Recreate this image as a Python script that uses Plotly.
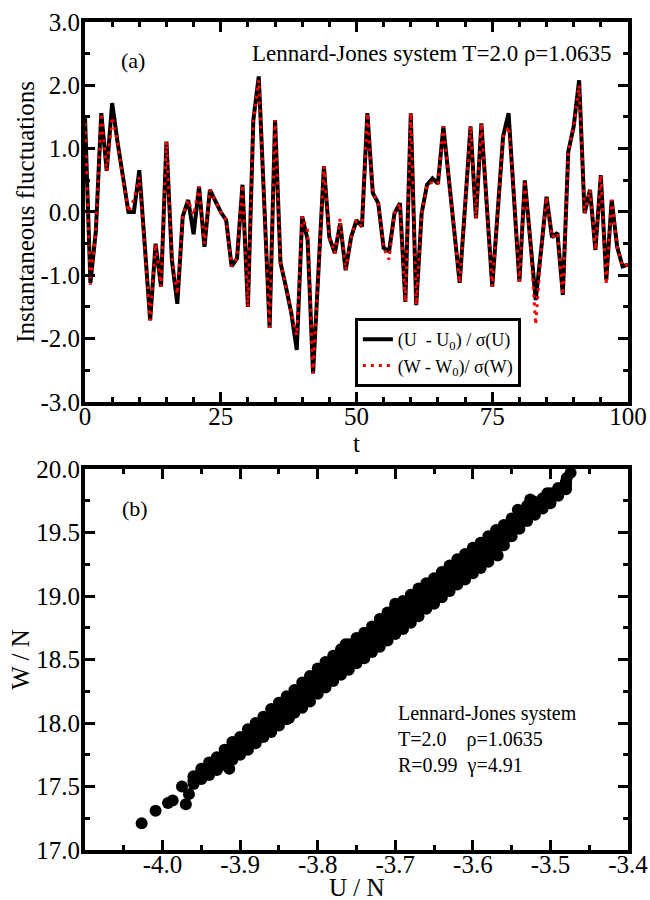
import plotly.graph_objects as go

# ---------------- Panel (a) data ----------------
t_vals = list(range(0, 101))
u_fluct = [1.50, -1.12, -0.30, 1.56, 0.65, 1.72, 1.10, 0.50, 0.00, 0.00,
           0.66, -0.52, -1.71, -0.50, -1.18, 1.11, -0.76, -1.45, -0.07, 0.19,
           -0.35, 0.40, -0.55, 0.35, 0.18, 0.00, -0.13, -0.86, -0.73, 0.43,
           -1.50, 1.45, 2.14, 0.20, -1.83, 1.45, -0.80, -1.18, -1.60, -2.18,
           -0.07, -0.44, -2.55, -0.92, 0.72, -0.40, -0.65, -0.18, -0.92, -0.40,
           -0.13, -0.23, 1.56, 0.30, 0.14, -0.57, -0.62, -0.02, 0.14, -1.42,
           1.56, -1.47, -0.02, 0.43, 0.53, 0.45, 1.35, 0.53, -0.30, -1.12,
           0.10, 1.35, -0.10, 1.40, 0.10, -1.18, 0.00, 1.19, 1.56, 0.30,
           -1.10, 0.50, -0.45, -1.39, -0.60, 0.24, -0.40, -0.33, -1.31, 0.95,
           1.35, 2.08, -0.02, 0.35, -0.60, 0.58, -1.07, 0.19, -0.55, -0.86, -0.83]
w_fluct = [1.40, -1.15, -0.30, 1.56, 0.65, 1.50, 1.10, 0.50, 0.00, 0.20,
           0.55, -0.52, -1.71, -0.50, -1.18, 1.11, -0.70, -1.30, -0.07, 0.19,
           -0.05, 0.40, -0.50, 0.35, 0.18, 0.00, -0.13, -0.86, -0.73, 0.43,
           -1.50, 1.45, 2.08, 0.20, -1.83, 1.45, -0.80, -1.18, -1.60, -1.95,
           -0.07, -0.30, -2.55, -0.92, 0.72, -0.40, -0.65, -0.10, -0.92, -0.40,
           -0.13, -0.23, 1.56, 0.30, 0.14, -0.57, -0.75, -0.02, 0.14, -1.42,
           1.56, -1.47, -0.02, 0.43, 0.47, 0.45, 1.35, 0.53, -0.30, -1.12,
           0.10, 1.35, -0.10, 1.40, 0.10, -1.18, 0.00, 1.19, 1.35, 0.30,
           -1.10, 0.50, -0.45, -1.78, -0.60, 0.24, -0.40, -0.33, -1.31, 0.95,
           1.35, 2.00, -0.02, 0.35, -0.60, 0.58, -1.15, 0.19, -0.55, -0.86, -0.83]

a_xtick_vals = [0, 25, 50, 75, 100]
a_xtick_text = ["0", "25", "50", "75", "100"]
a_ytick_vals = [-3, -2, -1, 0, 1, 2, 3]
a_ytick_text = ["-3.0", "-2.0", "-1.0", "0.0", "1.0", "2.0", "3.0"]

legend_u = "(U\u00a0\u00a0- U<sub>0</sub>) / σ(U)"
legend_w = "(W - W<sub>0</sub>)/ σ(W)"

# ---------------- Panel (b) data ----------------
band_u = [-3.96, -3.95, -3.94, -3.93, -3.92, -3.91, -3.90, -3.89, -3.88, -3.87,
          -3.86, -3.85, -3.84, -3.83, -3.82, -3.81, -3.80, -3.79, -3.78, -3.77,
          -3.76, -3.75, -3.74, -3.73, -3.72, -3.71, -3.70, -3.69, -3.68, -3.67,
          -3.66, -3.65, -3.64, -3.63, -3.62, -3.61, -3.60, -3.59, -3.58, -3.57,
          -3.56, -3.55, -3.54, -3.53, -3.52, -3.51, -3.50, -3.49, -3.48]
band_w = [
    [17.52, 17.54, 17.55, 17.57, 17.58],
    [17.56, 17.58, 17.60, 17.62, 17.64],
    [17.59, 17.62, 17.64, 17.67, 17.69],
    [17.63, 17.66, 17.68, 17.71, 17.73],
    [17.67, 17.70, 17.73, 17.76, 17.79],
    [17.71, 17.75, 17.78, 17.82, 17.85],
    [17.75, 17.79, 17.82, 17.86, 17.89],
    [17.79, 17.83, 17.87, 17.91, 17.95],
    [17.84, 17.88, 17.92, 17.96, 18.00],
    [17.89, 17.93, 17.97, 18.01, 18.05],
    [17.93, 17.98, 18.02, 18.07, 18.11],
    [17.98, 18.03, 18.07, 18.12, 18.16],
    [18.03, 18.08, 18.12, 18.17, 18.21],
    [18.08, 18.13, 18.17, 18.22, 18.26],
    [18.12, 18.17, 18.22, 18.27, 18.32],
    [18.17, 18.22, 18.27, 18.32, 18.37],
    [18.23, 18.28, 18.33, 18.38, 18.43],
    [18.28, 18.33, 18.38, 18.43, 18.48],
    [18.33, 18.38, 18.43, 18.48, 18.53],
    [18.38, 18.43, 18.48, 18.53, 18.58],
    [18.42, 18.47, 18.52, 18.57, 18.62],
    [18.47, 18.52, 18.57, 18.62, 18.67],
    [18.51, 18.56, 18.61, 18.66, 18.71],
    [18.56, 18.61, 18.66, 18.71, 18.76],
    [18.60, 18.66, 18.71, 18.77, 18.82],
    [18.65, 18.71, 18.76, 18.82, 18.87],
    [18.70, 18.76, 18.81, 18.87, 18.92],
    [18.74, 18.80, 18.85, 18.91, 18.96],
    [18.79, 18.85, 18.90, 18.96, 19.01],
    [18.84, 18.90, 18.95, 19.01, 19.06],
    [18.90, 18.95, 19.00, 19.05, 19.10],
    [18.94, 18.99, 19.04, 19.09, 19.14],
    [18.99, 19.04, 19.09, 19.14, 19.19],
    [19.04, 19.09, 19.14, 19.19, 19.24],
    [19.09, 19.14, 19.19, 19.24, 19.29],
    [19.13, 19.18, 19.23, 19.28, 19.33],
    [19.18, 19.23, 19.28, 19.33, 19.38],
    [19.22, 19.27, 19.32, 19.37, 19.42],
    [19.27, 19.32, 19.37, 19.42, 19.47],
    [19.34, 19.39, 19.43, 19.48, 19.52],
    [19.40, 19.44, 19.48, 19.52, 19.56],
    [19.47, 19.51, 19.54, 19.58, 19.61],
    [19.53, 19.56, 19.59, 19.62, 19.65],
    [19.59, 19.62, 19.65, 19.68, 19.71],
    [19.64, 19.67, 19.69, 19.72, 19.74],
    [19.69, 19.71, 19.73, 19.75, 19.77],
    [19.73, 19.75, 19.77, 19.79, 19.81],
    [19.79, 19.80, 19.82, 19.84, 19.85],
    [19.84, 19.85, 19.87, 19.89, 19.90],
]
extra_u = [-4.027, -4.009, -3.993, -3.987, -3.970, -3.975, -3.966, -3.914, -3.837,
           -3.764, -3.700, -3.568, -3.542, -3.526, -3.504, -3.479, -3.474]
extra_w = [17.21, 17.31, 17.37, 17.39, 17.36, 17.50, 17.44, 17.64, 18.04,
           18.62, 18.94, 19.32, 19.68, 19.76, 19.81, 19.93, 19.97]

b_xtick_vals = [-4.0, -3.9, -3.8, -3.7, -3.6, -3.5, -3.4]
b_xtick_text = ["-4.0", "-3.9", "-3.8", "-3.7", "-3.6", "-3.5", "-3.4"]
b_ytick_vals = [17.0, 17.5, 18.0, 18.5, 19.0, 19.5, 20.0]
b_ytick_text = ["17.0", "17.5", "18.0", "18.5", "19.0", "19.5", "20.0"]

# flatten the scatter cloud
scat_u, scat_w = [], []
for u, ws in zip(band_u, band_w):
    for w in ws:
        scat_u.append(u)
        scat_w.append(w)
scat_u += extra_u
scat_w += extra_w

FONT = "Liberation Serif, Times New Roman, serif"
NBSP = "\u00a0"

fig = go.Figure()
fig.add_trace(go.Scatter(x=t_vals, y=u_fluct, mode="lines", name=legend_u,
                         line=dict(color="black", width=4),
                         xaxis="x", yaxis="y"))
fig.add_trace(go.Scatter(x=t_vals, y=w_fluct, mode="lines", name=legend_w,
                         line=dict(color="red", width=3, dash="3px,5px"),
                         xaxis="x", yaxis="y"))
fig.add_trace(go.Scatter(x=scat_u, y=scat_w, mode="markers", showlegend=False,
                         marker=dict(color="black", size=12, line=dict(width=0)),
                         xaxis="x2", yaxis="y2"))

axis_common = dict(showgrid=False, zeroline=False, showline=True, linecolor="black",
                   linewidth=4, mirror="ticks", ticks="inside", ticklen=10,
                   tickwidth=3, tickcolor="black", automargin=False,
                   tickfont=dict(family=FONT, size=25, color="black"),
                   tickmode="array")
title_font = dict(family=FONT, size=25, color="black")
minor_common = dict(ticks="inside", ticklen=5, tickwidth=3, tickcolor="black")

fig.update_layout(
    width=650, height=900,
    margin=dict(l=85, r=22, t=22, b=50, autoexpand=False),
    paper_bgcolor="white", plot_bgcolor="white",
    font=dict(family=FONT, color="black"),
    xaxis=dict(domain=[0, 1], anchor="y", range=[0, 100],
               tickvals=a_xtick_vals, ticktext=a_xtick_text, ticklabelstandoff=-11,
               minor=dict(dtick=5, tick0=0, **minor_common),
               **axis_common),
    yaxis=dict(domain=[0.5411, 1], anchor="x", range=[-3, 3],
               tickvals=a_ytick_vals, ticktext=a_ytick_text, ticklabelstandoff=-4,
               minor=dict(dtick=0.5, tick0=0, **minor_common),
               title=dict(text="Instantaneous fluctuations", font=title_font, standoff=0),
               **axis_common),
    xaxis2=dict(domain=[0, 1], anchor="y2", range=[-4.1, -3.4],
                tickvals=b_xtick_vals, ticktext=b_xtick_text, ticklabelstandoff=-11,
                minor=dict(dtick=0.05, tick0=-4.1, **minor_common),
                **axis_common),
    yaxis2=dict(domain=[0, 0.4601], anchor="x2", range=[17, 20],
                tickvals=b_ytick_vals, ticktext=b_ytick_text, ticklabelstandoff=-4,
                minor=dict(dtick=0.25, tick0=17, **minor_common),
                title=dict(text="W / N", font=title_font, standoff=0),
                **axis_common),
    legend=dict(x=0.497, y=0.6425, xanchor="left", yanchor="top",
                bgcolor="white", bordercolor="black", borderwidth=3,
                font=dict(family=FONT, size=18, color="black"),
                tracegroupgap=0, itemwidth=30),
    showlegend=True,
)

# x-axis titles, placed as paper annotations for exact spacing
fig.add_annotation(x=0.5, y=(850 - 443) / 828, xref="paper", yref="paper",
                   yanchor="middle", text="t", showarrow=False, font=title_font)
fig.add_annotation(x=0.5, y=(850 - 887) / 828, xref="paper", yref="paper",
                   yanchor="middle", text="U / N", showarrow=False, font=title_font)

ann_font = dict(family=FONT, size=23, color="black")
fig.add_annotation(x=8.8, y=2.4, xref="x", yref="y", text="(a)", showarrow=False,
                   font=dict(family=FONT, size=22, color="black"))
fig.add_annotation(x=97.5, y=2.51, xref="x", yref="y", xanchor="right",
                   text="Lennard-Jones system T=2.0 ρ=1.0635", showarrow=False, font=ann_font)
fig.add_annotation(x=-4.035, y=19.69, xref="x2", yref="y2", text="(b)", showarrow=False,
                   font=dict(family=FONT, size=22, color="black"))
fig.add_annotation(x=-3.699, y=17.87, xref="x2", yref="y2", xanchor="left", yanchor="middle",
                   align="left",
                   text=("Lennard-Jones system<br>"
                         + "T=2.0" + NBSP * 4 + "ρ=1.0635<br>"
                         + "R=0.99" + NBSP * 2 + "γ=4.91"),
                   showarrow=False, font=dict(family=FONT, size=20, color="black"))

fig.write_html("out.html")
